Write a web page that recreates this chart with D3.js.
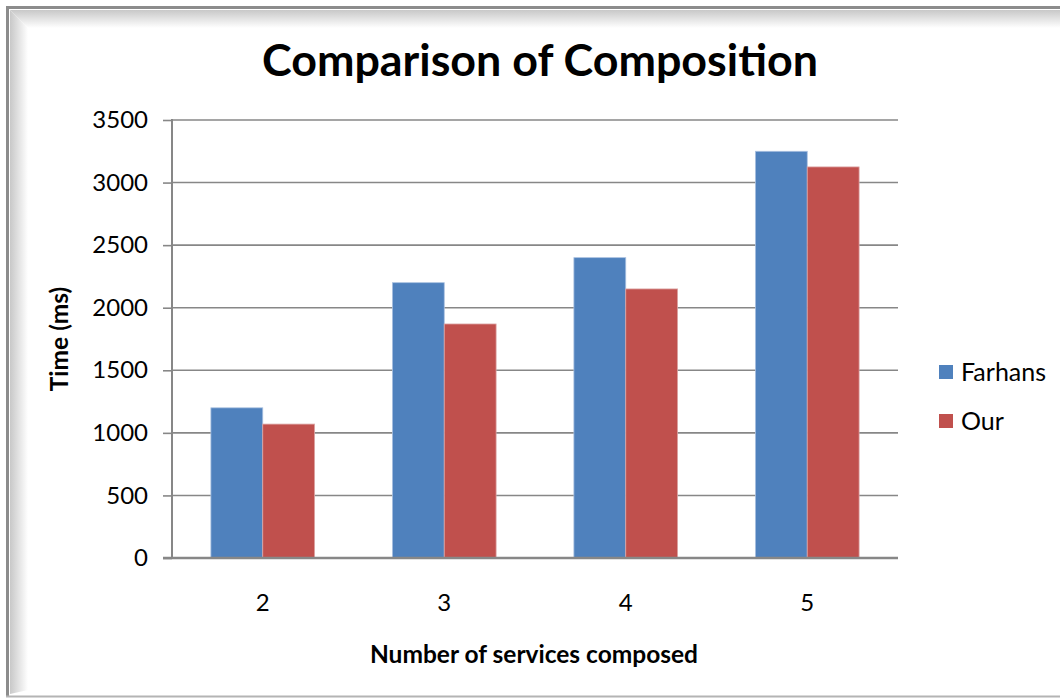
<!DOCTYPE html>
<html>
<head>
<meta charset="utf-8">
<script src="https://cdn.jsdelivr.net/npm/d3@7"></script>
<style>
  html, body { margin: 0; padding: 0; background: #ffffff; }
  svg { display: block; }
  text { font-family: Lato, "Open Sans", sans-serif; fill: #000; }
</style>
</head>
<body>
<svg id="chart" width="1060" height="698"></svg>
<script>
// Composition time per number of services
const categories = ["2", "3", "4", "5"];
const seriesNames = ["Farhans", "Our"];
const farhansValues = [1200, 2200, 2400, 3250];
const ourValues = [1070, 1870, 2150, 3125];
const yTicks = [0, 500, 1000, 1500, 2000, 2500, 3000, 3500];
const seriesColors = ["#4F81BD", "#C0504D"];

const svg = d3.select("#chart");
const W = 1060, H = 698;

// Frame with a soft bevel on the inside edges
const defs = svg.append("defs");
const gLeft = defs.append("linearGradient").attr("id", "bevelLeft")
  .attr("x1", "0").attr("x2", "1").attr("y1", "0").attr("y2", "0");
gLeft.append("stop").attr("offset", "0").attr("stop-color", "#c8c8c8");
gLeft.append("stop").attr("offset", "1").attr("stop-color", "#ffffff");
const gTop = defs.append("linearGradient").attr("id", "bevelTop")
  .attr("x1", "0").attr("x2", "0").attr("y1", "0").attr("y2", "1");
gTop.append("stop").attr("offset", "0").attr("stop-color", "#c8c8c8");
gTop.append("stop").attr("offset", "1").attr("stop-color", "#ffffff");

svg.append("rect").attr("x", 0).attr("y", 0).attr("width", W).attr("height", H).attr("fill", "#fff");
svg.append("path").attr("d", "M10,10 L28,28 L28,690 L10,694 Z").attr("fill", "url(#bevelLeft)");
svg.append("path").attr("d", "M10,10 L1060,10 L1060,28 L28,28 Z").attr("fill", "url(#bevelTop)");
svg.append("line").attr("x1", 7.5).attr("x2", 7.5).attr("y1", 6).attr("y2", 697)
  .attr("stroke", "#8c8c8c").attr("stroke-width", 3);
svg.append("line").attr("x1", 6).attr("x2", W).attr("y1", 7.5).attr("y2", 7.5)
  .attr("stroke", "#8c8c8c").attr("stroke-width", 3);
svg.append("line").attr("x1", 6).attr("x2", W).attr("y1", 696.5).attr("y2", 696.5)
  .attr("stroke", "#b4b4b4").attr("stroke-width", 2);

// Plot area
const plot = { left: 172, right: 898, top: 120, bottom: 558 };

const x = d3.scaleBand().domain(categories).range([plot.left, plot.right]).paddingInner(0).paddingOuter(0);
const x1 = d3.scaleBand().domain(seriesNames).range([0, x.bandwidth()]).paddingInner(0).paddingOuter(0.75);
const y = d3.scaleLinear().domain([0, 3500]).range([plot.bottom, plot.top]);

// Horizontal gridlines
svg.append("g").selectAll("line").data(yTicks.filter(d => d > 0)).join("line")
  .attr("x1", plot.left).attr("x2", plot.right)
  .attr("y1", d => y(d)).attr("y2", d => y(d))
  .attr("stroke", "#878787").attr("stroke-width", 1.6);

// Bars
const data = categories.map((c, i) => ({ cat: c, vals: [farhansValues[i], ourValues[i]] }));
const groups = svg.append("g").selectAll("g").data(data).join("g")
  .attr("transform", d => `translate(${x(d.cat)},0)`);
groups.selectAll("rect").data(d => d.vals.map((v, j) => ({ v, s: seriesNames[j], j }))).join("rect")
  .attr("x", d => x1(d.s))
  .attr("width", x1.bandwidth())
  .attr("y", d => y(d.v))
  .attr("height", d => y(0) - y(d.v))
  .attr("fill", d => seriesColors[d.j])
  .attr("stroke", d => d.j === 0 ? "#a9c0e0" : "#dca5a4")
  .attr("stroke-width", 0.8);

// Y axis
const yAxis = d3.axisLeft(y).tickValues(yTicks).tickSize(9).tickPadding(15).tickFormat(d3.format("d"));
const yg = svg.append("g").attr("transform", `translate(${plot.left},0)`).call(yAxis);
yg.select(".domain").attr("stroke", "#878787").attr("stroke-width", 2)
  .attr("d", `M0,${plot.top - 1}V${plot.bottom + 1}`);
yg.selectAll(".tick line").attr("stroke", "#878787").attr("stroke-width", 1.6);
yg.selectAll(".tick text").attr("font-size", 24).attr("font-family", "Lato, sans-serif").attr("fill", "#000");

// X axis
const xAxis = d3.axisBottom(x).tickSize(0).tickPadding(36);
const xg = svg.append("g").attr("transform", `translate(0,${plot.bottom})`).call(xAxis);
xg.select(".domain").attr("stroke", "#878787").attr("stroke-width", 2.4)
  .attr("d", `M${plot.left - 9},0H${plot.right}`);
xg.selectAll(".tick text").attr("font-size", 24).attr("font-family", "Lato, sans-serif").attr("fill", "#000");

// Title and axis titles
svg.append("text").attr("x", 540).attr("y", 76).attr("text-anchor", "middle")
  .attr("font-size", 44.8).attr("font-weight", "bold").text("Comparison of Composition");
svg.append("text").attr("x", 534).attr("y", 663).attr("text-anchor", "middle")
  .attr("font-size", 24.5).attr("font-weight", "bold").text("Number of services composed");
svg.append("text").attr("transform", "translate(68,339) rotate(-90)").attr("text-anchor", "middle")
  .attr("font-size", 24.5).attr("font-weight", "bold").text("Time (ms)");

// Legend
const legend = svg.append("g").selectAll("g").data(seriesNames).join("g")
  .attr("transform", (d, i) => `translate(939,${365 + i * 49})`);
legend.append("rect").attr("width", 14).attr("height", 14).attr("fill", (d, i) => seriesColors[i]);
legend.append("text").attr("x", 22).attr("y", 16).attr("font-size", 25).text(d => d);
</script>
</body>
</html>
